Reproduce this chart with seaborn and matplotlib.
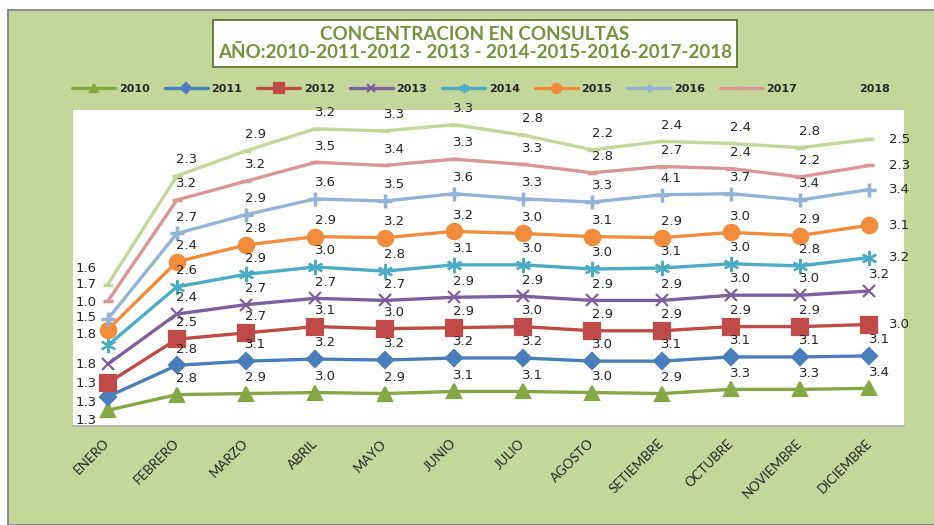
import numpy as np
import pandas as pd
import seaborn as sns
import matplotlib.pyplot as plt
from matplotlib.patches import Rectangle

meses = ['ENERO', 'FEBRERO', 'MARZO', 'ABRIL', 'MAYO', 'JUNIO', 'JULIO',
         'AGOSTO', 'SETIEMBRE', 'OCTUBRE', 'NOVIEMBRE', 'DICIEMBRE']
anios = ['2010', '2011', '2012', '2013', '2014', '2015', '2016', '2017', '2018']

# valores por año (grafico de lineas apiladas)
v2010 = [1.3, 2.8, 2.9, 3.0, 2.9, 3.1, 3.1, 3.0, 2.9, 3.3, 3.3, 3.4]
v2011 = [1.3, 2.8, 3.1, 3.2, 3.2, 3.2, 3.2, 3.0, 3.1, 3.1, 3.1, 3.1]
v2012 = [1.3, 2.5, 2.7, 3.1, 3.0, 2.9, 3.0, 2.9, 2.9, 2.9, 2.9, 3.0]
v2013 = [1.8, 2.4, 2.7, 2.7, 2.7, 2.9, 2.9, 2.9, 2.9, 3.0, 3.0, 3.2]
v2014 = [1.8, 2.6, 2.9, 3.0, 2.8, 3.1, 3.0, 3.0, 3.1, 3.0, 2.8, 3.2]
v2015 = [1.5, 2.4, 2.8, 2.9, 3.2, 3.2, 3.0, 3.1, 2.9, 3.0, 2.9, 3.1]
v2016 = [1.0, 2.7, 2.9, 3.6, 3.5, 3.6, 3.3, 3.3, 4.1, 3.7, 3.4, 3.4]
v2017 = [1.7, 3.2, 3.2, 3.5, 3.4, 3.3, 3.3, 2.8, 2.7, 2.4, 2.2, 2.3]
v2018 = [1.6, 2.3, 2.9, 3.2, 3.3, 3.3, 2.8, 2.2, 2.4, 2.4, 2.8, 2.5]
valores = [v2010, v2011, v2012, v2013, v2014, v2015, v2016, v2017, v2018]

colores = ['#86a844', '#4a7ebb', '#be4b48', '#7d5fa0', '#4aacc5',
           '#f08c3c', '#94b2d6', '#d99694', '#c3d69b']
marcadores = ['^', 'D', 's', 'x', (6, 2, 0), 'o', '+', '_', '_']
tam = [10, 8, 11, 9, 11, 11, 10, 7, 7]
# desplazamiento vertical (puntos) de las etiquetas de enero
dy_enero = [-7, -4, 0, 0, 8, 9, 12, 12, 12]
etiqueta_arriba_dic = ['2010', '2011', '2013']

verde = '#c4d79b'

# tabla larga con acumulado
filas = []
acum = np.zeros(len(meses))
for a, vals in zip(anios, valores):
    acum = acum + np.array(vals)
    for i, m in enumerate(meses):
        filas.append({'anio': a, 'idx': i, 'mes': m, 'valor': vals[i], 'acum': acum[i]})
df = pd.DataFrame(filas)

sns.set_style('white')
plt.rcParams['font.family'] = ['DejaVu Sans']

fig = plt.figure(figsize=(9.34, 5.25), dpi=100)
fig.patch.set_facecolor('white')
fig.patches.append(Rectangle((8 / 934, 0), 1, 1 - 10 / 525, transform=fig.transFigure,
                             facecolor=verde, edgecolor='#8c8c8c', linewidth=1.5, zorder=-10))

ax = fig.add_axes([73 / 934, 1 - 426 / 525, (904 - 73) / 934, (426 - 110) / 525])
ax.set_facecolor('white')

for k, a in enumerate(anios):
    d = df[df['anio'] == a]
    mew = 2.5 if marcadores[k] in ['_', '+'] else 1.6
    sns.lineplot(data=d, x='idx', y='acum', ax=ax, color=colores[k], linewidth=2.4,
                 marker=marcadores[k], markersize=tam[k], markeredgewidth=mew,
                 markeredgecolor=colores[k], label=a, zorder=3 + k)
    for _, r in d.iterrows():
        if r['idx'] == 0:
            off, ha = (-8, dy_enero[k]), 'right'
        elif r['idx'] == len(meses) - 1 and a not in etiqueta_arriba_dic:
            off, ha = (14, 0), 'left'
        else:
            off, ha = (7, 7), 'center'
        ax.annotate(f"{r['valor']:.1f}", (r['idx'], r['acum']), xytext=off,
                    textcoords='offset points', ha=ha, va='bottom' if ha == 'center' else 'center',
                    fontsize=9.5, color='#262626', zorder=20, annotation_clip=False)

ax.set_xlim(-0.5, len(meses) - 0.5)
ax.set_ylim(-0.2, 30)
ax.set_xticks(range(len(meses)))
ax.set_xticklabels(meses, rotation=45, ha='right', va='center', rotation_mode='anchor',
                   fontsize=9.5, family='Lato')
ax.tick_params(axis='x', length=0, pad=11)
ax.set_yticks([])
ax.set_xlabel('')
ax.set_ylabel('')
for s in ['top', 'left', 'right']:
    ax.spines[s].set_visible(False)
ax.spines['bottom'].set_color('#a6a6a6')
ax.spines['bottom'].set_linewidth(1.2)

h, l = ax.get_legend_handles_labels()
ax.get_legend().remove()
fig.legend(h, l, loc='center', bbox_to_anchor=(0.515, 1 - 89 / 525), ncol=9, frameon=False,
           prop={'weight': 'bold', 'size': 8}, handlelength=3.9, handletextpad=0.3,
           columnspacing=1.35, markerscale=0.6)

# titulo en caja blanca
fig.patches.append(Rectangle((213 / 934, 1 - 67 / 525), (737 - 213) / 934, 47 / 525,
                             transform=fig.transFigure, facecolor='white',
                             edgecolor='#5f7530', linewidth=1.3, zorder=1))
fig.text(475 / 934, 1 - 34 / 525, 'CONCENTRACION EN CONSULTAS', ha='center', va='center',
         fontsize=13.5, fontweight='bold', color='#76923c', family='Lato', zorder=2)
fig.text(475 / 934, 1 - 53 / 525, 'AÑO:2010-2011-2012 - 2013 - 2014-2015-2016-2017-2018',
         ha='center', va='center', fontsize=13.5, fontweight='bold', color='#76923c',
         family='Lato', zorder=2)

fig.savefig('out.png', dpi=100, facecolor=fig.get_facecolor())
